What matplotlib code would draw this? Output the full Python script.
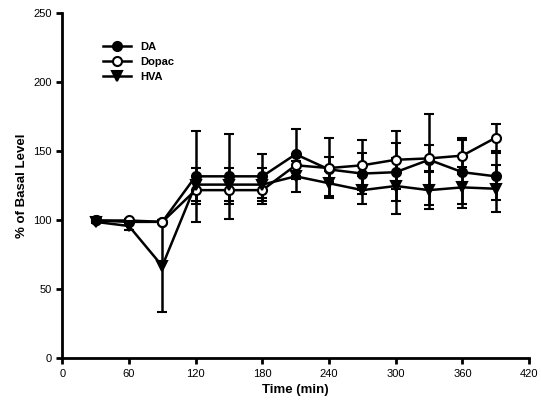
import numpy as np
import matplotlib
matplotlib.use('Agg')
import matplotlib.pyplot as plt
from matplotlib.lines import Line2D

plt.rcParams['font.family'] = ['Liberation Sans', 'DejaVu Sans']

# time points (min)
time_min = [30, 60, 90, 120, 150, 180, 210, 240, 270, 300, 330, 360, 390]

# % of basal level, mean and error
da_mean = [100, 99, 99, 132, 132, 132, 148, 137, 134, 135, 144, 135, 132]
da_err = [1, 2, 1, 33, 31, 16, 18, 9, 15, 21, 33, 23, 17]

dopac_mean = [100, 100, 99, 122, 122, 122, 140, 138, 140, 144, 145, 147, 160]
dopac_err = [1, 1, 1, 10, 10, 10, 8, 22, 18, 21, 10, 13, 10]

hva_mean = [99, 96, 67, 126, 126, 126, 132, 127, 122, 125, 122, 124, 123]
hva_err = [1, 3, 33, 12, 12, 12, 11, 9, 10, 20, 14, 15, 17]

series = [
    ('DA', da_mean, da_err, 'o', 'black'),
    ('Dopac', dopac_mean, dopac_err, 'o', 'white'),
    ('HVA', hva_mean, hva_err, 'v', 'black'),
]

fig = plt.figure(figsize=(5.41, 4.09), dpi=100)
ax = fig.add_axes([0.115, 0.1235, 0.863, 0.8435])

handles = []
for name, mean, err, marker, face in series:
    ax.errorbar(time_min, mean, yerr=err, color='black', linewidth=1.8,
                elinewidth=1.8, capsize=3.5, capthick=1.8,
                marker=marker, markersize=6.5, markerfacecolor=face,
                markeredgecolor='black', markeredgewidth=1.5)
    # legend shows only line + marker, no error bar
    handles.append(Line2D([], [], color='black', linewidth=1.8, marker=marker,
                          markersize=6.5, markerfacecolor=face,
                          markeredgecolor='black', markeredgewidth=1.5, label=name))

ax.set_xlim(0, 420)
ax.set_ylim(0, 250)
ax.set_xticks(np.arange(0, 421, 60))
ax.set_yticks(np.arange(0, 251, 50))

ax.spines['top'].set_visible(False)
ax.spines['right'].set_visible(False)
ax.spines['left'].set_linewidth(2)
ax.spines['bottom'].set_linewidth(2)
ax.tick_params(direction='out', length=4, width=2, labelsize=8)

ax.set_xlabel('Time (min)', fontsize=9.5, fontweight='bold')
ax.set_ylabel('% of Basal Level', fontsize=9.5, fontweight='bold')

ax.legend(handles=handles, loc='upper left', bbox_to_anchor=(0.088, 0.917),
          frameon=False, handlelength=2.5, handletextpad=0.8, labelspacing=0.45,
          borderpad=0, borderaxespad=0,
          prop={'size': 8, 'weight': 'bold'})

fig.savefig('out.png', dpi=100)
